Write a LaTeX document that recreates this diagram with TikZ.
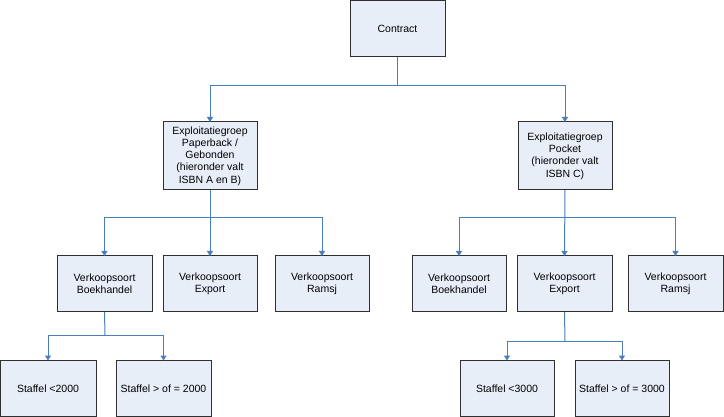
\documentclass[tikz,border=0pt]{standalone}
\usepackage{fontspec}
\setmainfont{Liberation Sans}
\usetikzlibrary{arrows.meta}
\definecolor{boxfill}{HTML}{E8EEF8}
\definecolor{boxline}{HTML}{303030}
\definecolor{conn}{HTML}{4A7EBB}
\tikzset{
  box/.style={draw=boxline, fill=boxfill, line width=1pt, inner sep=0pt, outer sep=0pt,
    minimum width=95pt, minimum height=56pt, align=center,
    font=\fontsize{10.5pt}{12.2pt}\selectfont},
  tall/.style={minimum height=68pt, minimum width=94pt},
  link/.style={draw=conn, line width=1pt},
  arr/.style={link, -{Triangle[width=6pt,length=5pt]}}
}
\begin{document}
\begin{tikzpicture}[x=1pt,y=-1pt]
\useasboundingbox (0,0) rectangle (724,417);
% level 1
\node[box] (contract) at (397.5,29) {Contract};
% level 2
\node[box,tall] (pb) at (210,156) {Exploitatiegroep\\Paperback /\\Gebonden\\(hieronder valt\\ISBN A en B)};
\node[box,tall] (pocket) at (565,156) {Exploitatiegroep\\Pocket\\(hieronder valt\\ISBN C)};
% level 3
\node[box] (lboek) at (104.5,284) {Verkoopsoort\\Boekhandel};
\node[box,minimum width=94pt] (lexp) at (210,284) {Verkoopsoort\\Export};
\node[box,minimum width=94pt] (lram) at (322,284) {Verkoopsoort\\Ramsj};
\node[box,minimum width=94pt] (rboek) at (459,284) {Verkoopsoort\\Boekhandel};
\node[box] (rexp) at (564.5,284) {Verkoopsoort\\Export};
\node[box] (rram) at (675.5,284) {Verkoopsoort\\Ramsj};
% level 4
\node[box,minimum width=96pt] (l2000) at (48,388.5) {Staffel <2000};
\node[box] (lge2000) at (163.5,388.5) {Staffel > of = 2000};
\node[box,minimum width=94pt] (r3000) at (507,388.5) {Staffel <3000};
\node[box,minimum width=94pt] (rge3000) at (622,388.5) {Staffel > of = 3000};
% junctions
\coordinate (j0) at (397.5,86);
\coordinate (j1) at (210,218);
\coordinate (j2) at (565,218);
\coordinate (j3) at (105,335);
\coordinate (j4) at (565,341);
% connectors
\draw[link] (contract.south) -- (j0);
\draw[arr] (j0) -| (pb.north);
\draw[arr] (j0) -| (pocket.north);
\draw[arr] (pb.south) -- (lexp.north);
\draw[arr] (j1) -| (lboek.north);
\draw[arr] (j1) -| (lram.north);
\draw[arr] (pocket.south) -- (rexp.north);
\draw[arr] (j2) -| (rboek.north);
\draw[arr] (j2) -| (rram.north);
\draw[link] (lboek.south) -- (j3);
\draw[arr] (j3) -| (l2000.north);
\draw[arr] (j3) -| (lge2000.north);
\draw[link] (rexp.south) -- (j4);
\draw[arr] (j4) -| (r3000.north);
\draw[arr] (j4) -| (rge3000.north);
\end{tikzpicture}
\end{document}
